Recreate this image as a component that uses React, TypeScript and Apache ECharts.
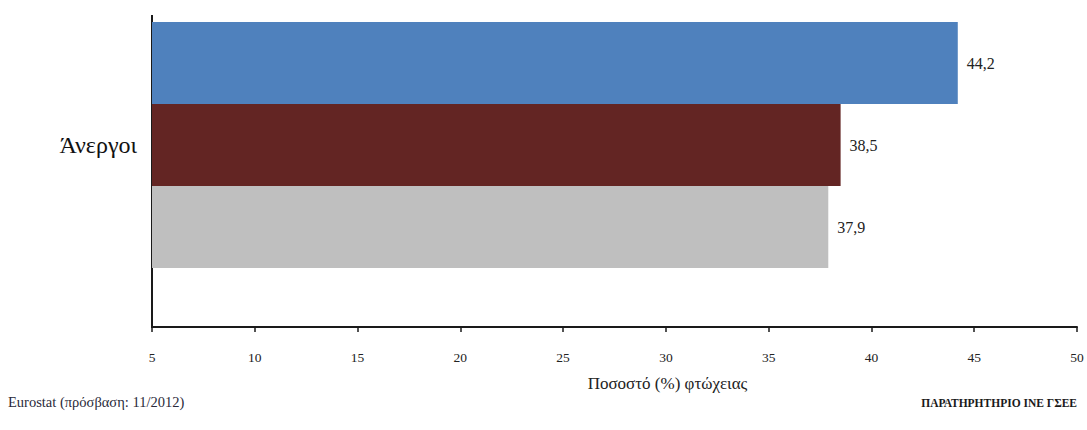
import React, { useEffect, useRef } from "react";
import * as echarts from "echarts";

const categories = ["Άνεργοι"];
const seriesNames = ["Σειρά 1", "Σειρά 2", "Σειρά 3"];
const seriesValues = [[44.2], [38.5], [37.9]];
const seriesColors = ["#4F81BD", "#632523", "#BFBFBF"];
const xTicks = { min: 5, max: 50, interval: 5 };
const axisTitle = "Ποσοστό (%) φτώχειας";
const sourceText = "Eurostat (πρόσβαση: 11/2012)";
const brandText = "ΠΑΡΑΤΗΡΗΤΗΡΙΟ ΙΝΕ ΓΣΕΕ";

const FONT = "'Liberation Serif', 'DejaVu Serif', serif";

export default function App() {
  const ref = useRef<HTMLDivElement>(null);
  useEffect(() => {
    document.body.style.margin = "0";
    if (!ref.current) return;
    const chart = echarts.init(ref.current, null, { renderer: "svg" });
    chart.setOption({
      animation: false,
      backgroundColor: "#ffffff",
      textStyle: { fontFamily: FONT },
      grid: { left: 152, right: 10, top: 0, bottom: 140, containLabel: false },
      xAxis: {
        type: "value",
        min: xTicks.min,
        max: xTicks.max,
        interval: xTicks.interval,
        offset: 37,
        splitLine: { show: false },
        axisLine: { show: true, lineStyle: { color: "#1a1a1a", width: 2 } },
        axisTick: { show: true, length: 5, lineStyle: { color: "#1a1a1a", width: 1.5 } },
        axisLabel: { color: "#222", fontSize: 13.5, fontFamily: FONT, margin: 23 },
        name: axisTitle,
        nameLocation: "middle",
        nameGap: 48,
        nameTextStyle: { color: "#222", fontSize: 17, fontFamily: FONT, padding: [0, 0, 0, 106] },
      },
      yAxis: {
        type: "category",
        data: categories,
        axisLine: { show: false },
        axisTick: { show: false },
        axisLabel: { color: "#111", fontSize: 24, fontFamily: FONT, margin: 15 },
      },
      series: seriesValues.map((vals, i) => ({
        type: "bar",
        name: seriesNames[i],
        data: vals,
        barWidth: 82,
        barGap: "0%",
        itemStyle: { color: seriesColors[i] },
        label: {
          show: true,
          position: "right",
          distance: 9,
          color: "#222",
          fontSize: 16,
          fontFamily: FONT,
          formatter: (p: any) => String(p.value).replace(".", ","),
        },
      })),
      graphic: [
        {
          type: "line",
          shape: { x1: 152, y1: 15, x2: 152, y2: 328 },
          style: { stroke: "#1a1a1a", lineWidth: 2 },
        },
        {
          type: "text",
          left: 8,
          top: 394,
          style: { text: sourceText, fill: "#2a2a3a", fontSize: 14.5, fontFamily: FONT },
        },
        {
          type: "text",
          right: 10,
          top: 397,
          style: { text: brandText, fill: "#1a1a1a", fontSize: 11.5, fontWeight: "bold", fontFamily: FONT },
        },
      ],
    });
    return () => chart.dispose();
  }, []);
  return <div ref={ref} style={{ width: 1087, height: 430 }} />;
}
